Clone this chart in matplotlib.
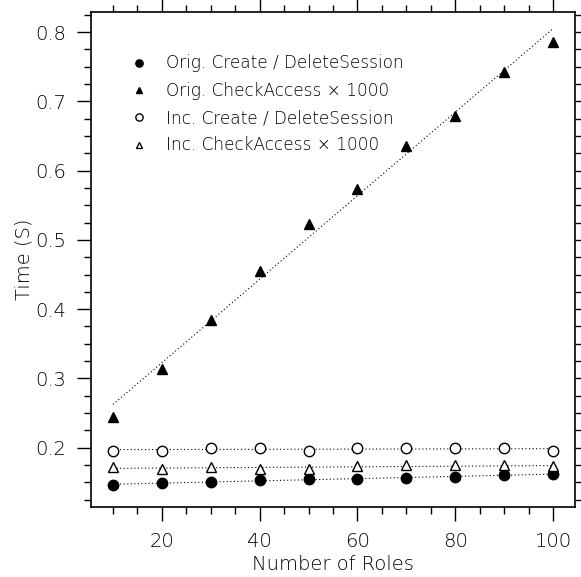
import numpy as np
import matplotlib
matplotlib.use("Agg")
import matplotlib.pyplot as plt
from matplotlib.ticker import MultipleLocator

plt.rcParams['font.family'] = ['DejaVu Sans']
plt.rcParams['font.weight'] = 'light'
plt.rcParams['axes.labelweight'] = 'light'

# data
roles = [10, 20, 30, 40, 50, 60, 70, 80, 90, 100]
orig_create = [0.146, 0.1495, 0.151, 0.1533, 0.1543, 0.1548, 0.1562, 0.1577, 0.161, 0.162]
orig_check = [0.245, 0.313, 0.384, 0.455, 0.523, 0.574, 0.635, 0.679, 0.743, 0.786]
inc_create = [0.1957, 0.1957, 0.1995, 0.1995, 0.1957, 0.2, 0.199, 0.199, 0.2, 0.1952]
inc_check = [0.172, 0.1697, 0.172, 0.170, 0.169, 0.173, 0.1745, 0.1745, 0.1745, 0.173]

labels = ["Orig. Create / DeleteSession",
          "Orig. CheckAccess \u00d7 1000",
          "Inc. Create / DeleteSession",
          "Inc. CheckAccess \u00d7 1000"]
series = [orig_create, orig_check, inc_create, inc_check]
markers = ['o', '^', 'o', '^']
fills = ['black', 'black', 'white', 'white']
sizes = [7.5, 7, 7.5, 6.5]

fig = plt.figure(figsize=(5.81, 5.77), dpi=100)
ax = fig.add_axes([0.1566, 0.1208, 0.9897 - 0.1566, 0.9792 - 0.1208])

x = np.array(roles)
for ys, m, fc, s, lab in zip(series, markers, fills, sizes, labels):
    # dotted least-squares line through each series
    k, b = np.polyfit(x, ys, 1)
    ax.plot(x, k * x + b, color='black', linestyle=(0, (1, 2.2)), linewidth=0.8)
    ax.plot(x, ys, linestyle='none', marker=m, markersize=s, markerfacecolor=fc,
            markeredgecolor='black', markeredgewidth=1.0, label=lab)

ax.set_xlim(5.5, 104.5)
ax.set_ylim(0.114, 0.829)
ax.xaxis.set_major_locator(MultipleLocator(20))
ax.xaxis.set_minor_locator(MultipleLocator(5))
ax.yaxis.set_major_locator(MultipleLocator(0.1))
ax.yaxis.set_minor_locator(MultipleLocator(0.025))
ax.tick_params(which='both', direction='out', top=True, right=True, width=1.0,
               labelsize=14, pad=8)
ax.tick_params(which='major', length=10)
ax.tick_params(which='minor', length=5)
ax.set_yticks([0.2, 0.3, 0.4, 0.5, 0.6, 0.7, 0.8])
ax.set_yticklabels(['0.2', '0.3', '0.4', '0.5', '0.6', '0.7', '0.8'])
for sp in ax.spines.values():
    sp.set_linewidth(1.2)

ax.set_xlabel("Number of Roles", fontsize=14, labelpad=3)
ax.set_ylabel("Time (S)", fontsize=14, labelpad=1)

ax.legend(loc='upper left', bbox_to_anchor=(0.05, 0.945), frameon=False,
          fontsize=12.2, markerscale=0.7, handletextpad=1.1, labelspacing=0.55,
          handlelength=1.0)

fig.savefig("out.png", dpi=100)
